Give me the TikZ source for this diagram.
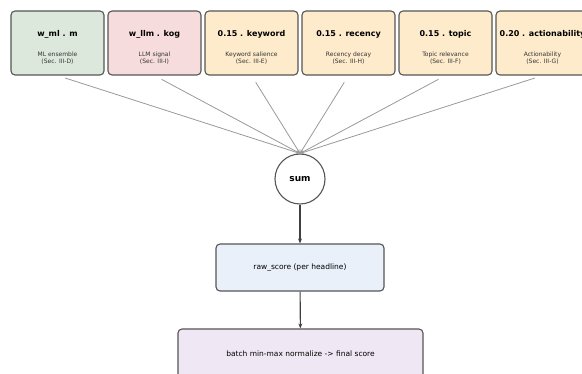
\documentclass[tikz,border=0pt]{standalone}
\usepackage{fontspec}
\setmainfont{DejaVu Sans}
\usetikzlibrary{arrows.meta}
\definecolor{cgreen}{HTML}{DDE8DC}
\definecolor{cpink}{HTML}{F6DCDD}
\definecolor{cwheat}{HTML}{FDEBCB}
\definecolor{cblue}{HTML}{EAF0FA}
\definecolor{cviolet}{HTML}{EFE8F4}
\definecolor{cborder}{HTML}{555555}
\definecolor{cedge}{HTML}{999999}
\tikzset{
  termbox/.style={draw=cborder, line width=1.1pt, rounded corners=4pt, minimum width=93pt, minimum height=64pt, inner sep=0pt},
  flowbox/.style={draw=cborder, line width=1.1pt, rounded corners=4pt, inner sep=0pt},
  title/.style={font=\bfseries\fontsize{8}{9}\selectfont},
  sub/.style={font=\fontsize{6}{7}\selectfont, align=center, text=black!80},
  fan/.style={draw=cedge, line width=0.8pt, -{Stealth[length=4pt,width=3pt]}, shorten <=8pt},
  flow/.style={draw=black!75, line width=1.1pt, -{Stealth[length=5pt,width=4pt]}}
}
\begin{document}
\begin{tikzpicture}[x=1pt,y=-1pt]
\useasboundingbox (0,0) rectangle (582,374);
\clip (0,0) rectangle (582,374);
\node[termbox, fill=cgreen] (m1) at (57.5,43) {};
\node[termbox, fill=cpink] (m2) at (154.5,43) {};
\node[termbox, fill=cwheat] (m3) at (251.5,43) {};
\node[termbox, fill=cwheat] (m4) at (348.5,43) {};
\node[termbox, fill=cwheat] (m5) at (445.5,43) {};
\node[termbox, fill=cwheat] (m6) at (542.5,43) {};
\node[title] (t1) at (57.5,34.5) {w\_ml . m};
\node[title] (t2) at (154.5,34.5) {w\_llm . kog};
\node[title] (t3) at (251.5,34.5) {0.15 . keyword};
\node[title] (t4) at (348.5,34.5) {0.15 . recency};
\node[title] (t5) at (445.5,34.5) {0.15 . topic};
\node[title] (t6) at (542.5,34.5) {0.20 . actionability};
\node[sub] (s1) at (57.5,58.5) {ML ensemble\\(Sec. III-D)};
\node[sub] (s2) at (154.5,58.5) {LLM signal\\(Sec. III-I)};
\node[sub] (s3) at (251.5,58.5) {Keyword salience\\(Sec. III-E)};
\node[sub] (s4) at (348.5,58.5) {Recency decay\\(Sec. III-H)};
\node[sub] (s5) at (445.5,58.5) {Topic relevance\\(Sec. III-F)};
\node[sub] (s6) at (542.5,58.5) {Actionability\\(Sec. III-G)};
\node[draw=cborder, line width=1.1pt, circle, minimum size=50pt, inner sep=0pt, fill=white, font=\bfseries\fontsize{9}{10}\selectfont] (sum) at (300,179) {sum};
\node[flowbox, fill=cblue, minimum width=168pt, minimum height=47pt, font=\fontsize{7.5}{9}\selectfont] (raw) at (300,267.5) {raw\_score (per headline)};
\node[flowbox, fill=cviolet, minimum width=245pt, minimum height=50pt, font=\fontsize{7.5}{9}\selectfont] (final) at (300.5,354) {batch min-max normalize -> final score};
\foreach \i in {1,...,6} {
  \draw[fan] (m\i.south) -- (sum.north);
}
\draw[flow] (sum) -- (raw);
\draw[flow] (raw) -- (final);
\end{tikzpicture}
\end{document}
